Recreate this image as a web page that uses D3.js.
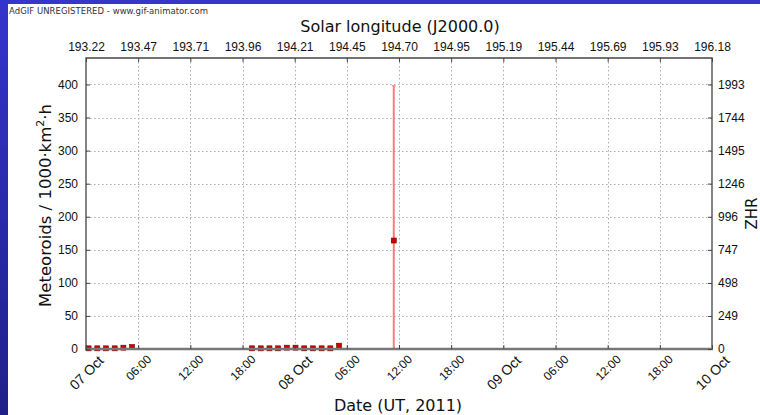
<!DOCTYPE html>
<html>
<head>
<meta charset="utf-8">
<script src="https://cdn.jsdelivr.net/npm/d3@7"></script>
<style>
  body { margin: 0; background: #fff; }
  svg { display: block; font-family: "DejaVu Sans", sans-serif; }
</style>
</head>
<body>
<div id="chart"></div>
<script>
// Meteoroid flux vs date, with solar longitude on top and ZHR on the right

// Hours after 07 Oct 2011 00:00 UT
const hours = [0.3, 1.3, 2.3, 3.3, 4.3, 5.3,
               19.1, 20.1, 21.1, 22.1, 23.1, 24.1, 25.1, 26.1, 27.1, 28.1, 29.1,
               35.4];
const flux = [1, 1, 1, 1, 2, 3,
              1, 1, 1, 1, 2, 2, 1, 1, 1, 1, 5,
              164];
const fluxHigh = [1, 1, 1, 1, 2, 3,
                  1, 1, 1, 1, 2, 2, 1, 1, 1, 1, 5,
                  398];

const yTicks = [0, 50, 100, 150, 200, 250, 300, 350, 400];
const zhrTicks = [0, 249, 498, 747, 996, 1246, 1495, 1744, 1993];
const lonTicks = ['193.22', '193.47', '193.71', '193.96', '194.21', '194.45', '194.70',
                  '194.95', '195.19', '195.44', '195.69', '195.93', '196.18'];

function createChart() {
    const W = 760, H = 415;
    const left = 86, right = 712, top = 58, bottom = 349;

    const svg = d3.select('#chart').append('svg')
        .attr('width', W)
        .attr('height', H);

    // blue frame of the slide
    const defs = svg.append('defs');
    const grad = defs.append('linearGradient')
        .attr('id', 'side')
        .attr('x1', 0).attr('y1', 0).attr('x2', 0).attr('y2', 1);
    grad.append('stop').attr('offset', '0%').attr('stop-color', '#3434cc');
    grad.append('stop').attr('offset', '100%').attr('stop-color', '#20208a');

    svg.append('rect').attr('x', 0).attr('y', 0).attr('width', W).attr('height', 4)
        .attr('fill', '#3636c8');
    svg.append('rect').attr('x', 0).attr('y', 0).attr('width', 8).attr('height', H)
        .attr('fill', 'url(#side)');

    svg.append('text')
        .attr('x', 9)
        .attr('y', 14)
        .style('font-size', '8.5px')
        .attr('fill', '#333')
        .attr('textLength', 199)
        .text('AdGIF UNREGISTERED - www.gif-animator.com');

    const t0 = new Date(Date.UTC(2011, 9, 7, 0));
    const t1 = new Date(Date.UTC(2011, 9, 10, 0));
    const toDate = h => new Date(t0.getTime() + h * 3600e3);

    const x = d3.scaleUtc().domain([t0, t1]).range([left, right]);
    const y = d3.scaleLinear().domain([0, 440]).range([bottom, top]);
    const yZhr = d3.scaleLinear().domain([0, 440 * 1993 / 400]).range([bottom, top]);

    const xTicks = d3.utcHour.every(6).range(t0, d3.utcHour.offset(t1, 1));

    // grid
    const grid = svg.append('g')
        .attr('stroke', '#aaa')
        .attr('stroke-width', 1)
        .attr('stroke-dasharray', '1.5,2.5');
    grid.selectAll('.gy')
        .data(yTicks.filter(d => d > 0))
        .enter().append('line')
        .attr('x1', left).attr('x2', right)
        .attr('y1', d => Math.round(y(d)) + 0.5)
        .attr('y2', d => Math.round(y(d)) + 0.5);
    grid.selectAll('.gx')
        .data(xTicks.slice(1, -1))
        .enter().append('line')
        .attr('y1', top).attr('y2', bottom)
        .attr('x1', d => Math.round(x(d)) + 0.5)
        .attr('x2', d => Math.round(x(d)) + 0.5);

    // error bars
    const idx = d3.range(hours.length);
    const withBar = idx.filter(i => fluxHigh[i] - flux[i] > 20);
    svg.append('g').selectAll('line')
        .data(withBar)
        .enter().append('line')
        .attr('x1', i => x(toDate(hours[i])))
        .attr('x2', i => x(toDate(hours[i])))
        .attr('y1', y(0))
        .attr('y2', i => y(fluxHigh[i]))
        .attr('stroke', '#ff7a7a')
        .attr('stroke-width', 2);
    svg.append('g').selectAll('line')
        .data(withBar)
        .enter().append('line')
        .attr('x1', i => x(toDate(hours[i])) - 2)
        .attr('x2', i => x(toDate(hours[i])) + 2)
        .attr('y1', i => y(fluxHigh[i]))
        .attr('y2', i => y(fluxHigh[i]))
        .attr('stroke', '#ff7a7a')
        .attr('stroke-width', 1);

    // points
    svg.append('g').selectAll('rect')
        .data(idx)
        .enter().append('rect')
        .attr('x', i => x(toDate(hours[i])) - 2.5)
        .attr('y', i => y(flux[i]) - 2.5)
        .attr('width', 5)
        .attr('height', 5)
        .attr('fill', '#d00000')
        .attr('stroke', '#700000')
        .attr('stroke-width', 0.6);

    // spines
    const spines = svg.append('g').attr('fill', 'none');
    spines.append('path')
        .attr('d', `M${left},${bottom}V${top}H${right}V${bottom}`)
        .attr('stroke', '#444')
        .attr('stroke-width', 1.3);
    spines.append('line')
        .attr('x1', left - 1).attr('x2', right + 1)
        .attr('y1', bottom).attr('y2', bottom)
        .attr('stroke', '#777')
        .attr('stroke-width', 2.5);

    // left axis
    const gl = svg.append('g').attr('transform', `translate(${left},0)`);
    gl.call(d3.axisLeft(y).tickValues(yTicks).tickSize(-4).tickPadding(8));
    gl.select('.domain').remove();
    gl.selectAll('text').style('font-size', '12px').attr('fill', '#111');
    gl.selectAll('line').attr('stroke', '#444');

    // right axis (ZHR)
    const gr = svg.append('g').attr('transform', `translate(${right},0)`);
    gr.call(d3.axisRight(yZhr).tickValues(zhrTicks).tickFormat(d3.format('d')).tickSize(-4).tickPadding(6));
    gr.select('.domain').remove();
    gr.selectAll('text').style('font-size', '12px').attr('fill', '#111');
    gr.selectAll('line').attr('stroke', '#444');

    // top axis (solar longitude)
    const gt = svg.append('g').attr('transform', `translate(0,${top})`);
    gt.call(d3.axisTop(x).tickValues(xTicks).tickFormat((d, i) => lonTicks[i]).tickSize(-4).tickPadding(7));
    gt.select('.domain').remove();
    gt.selectAll('text').style('font-size', '12px').attr('fill', '#111');
    gt.selectAll('line').attr('stroke', '#444');

    // bottom axis (date)
    const isDay = d => d.getUTCHours() === 0;
    const fmtDay = d3.utcFormat('%d %b');
    const fmtHour = d3.utcFormat('%H:%M');
    const gb = svg.append('g').attr('transform', `translate(0,${bottom})`);
    gb.call(d3.axisBottom(x).tickValues(xTicks).tickSize(-4).tickFormat(d => isDay(d) ? fmtDay(d) : fmtHour(d)));
    gb.select('.domain').remove();
    gb.selectAll('line').attr('stroke', '#444');
    gb.selectAll('text')
        .style('font-size', d => isDay(d) ? '14px' : '12px')
        .attr('fill', '#111')
        .attr('dy', null)
        .attr('y', 0)
        .attr('text-anchor', 'middle')
        .attr('dominant-baseline', 'central')
        .each(function(d) {
            const w = this.getComputedTextLength();
            const fs = isDay(d) ? 14 : 12;
            const half = (w + fs) * 0.3536;
            d3.select(this).attr('transform', `translate(0,${4 + half}) rotate(-45)`);
        });

    // axis titles
    svg.append('text')
        .attr('x', (left + right) / 2 + 1)
        .attr('y', 32)
        .attr('text-anchor', 'middle')
        .style('font-size', '16px')
        .attr('fill', '#111')
        .text('Solar longitude (J2000.0)');

    svg.append('text')
        .attr('x', (left + right) / 2 - 1)
        .attr('y', 411)
        .attr('text-anchor', 'middle')
        .style('font-size', '16px')
        .attr('fill', '#111')
        .text('Date (UT, 2011)');

    const yl = svg.append('text')
        .attr('transform', `translate(51,${(top + bottom) / 2 + 2}) rotate(-90)`)
        .attr('text-anchor', 'middle')
        .style('font-size', '16.5px')
        .attr('fill', '#111');
    yl.append('tspan').text('Meteoroids / 1000\u00b7km');
    yl.append('tspan').attr('dy', -7).style('font-size', '11px').text('2');
    yl.append('tspan').attr('dy', 7).text('\u00b7h');

    svg.append('text')
        .attr('transform', `translate(752,${(top + bottom) / 2 + 10}) rotate(-90)`)
        .attr('text-anchor', 'middle')
        .attr('dominant-baseline', 'central')
        .style('font-size', '15px')
        .attr('fill', '#111')
        .text('ZHR');
}

createChart();
</script>
</body>
</html>
